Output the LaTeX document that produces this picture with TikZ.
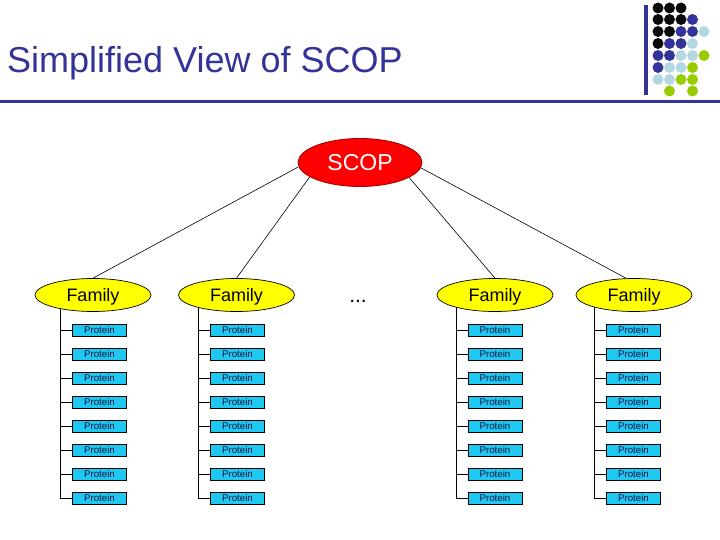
\documentclass[tikz,border=0pt]{standalone}
\usepackage{fontspec}
\setmainfont{Liberation Sans}
\usetikzlibrary{shapes.geometric}
\pgfdeclarelayer{background}
\pgfsetlayers{background,main}
\definecolor{navy}{RGB}{51,51,153}
\definecolor{ltblue}{RGB}{180,216,226}
\definecolor{lgreen}{RGB}{153,204,0}
\definecolor{dotblack}{RGB}{10,10,10}
\definecolor{scopred}{RGB}{255,0,0}
\definecolor{scopedge}{RGB}{150,0,0}
\definecolor{famyellow}{RGB}{255,255,0}
\definecolor{protcyan}{RGB}{30,200,240}
\definecolor{prottext}{RGB}{16,16,64}
\tikzset{
  rootnode/.style={ellipse, fill=scopred, draw=scopedge, line width=0.8pt, inner sep=0pt,
    minimum width=124pt, minimum height=48pt, text=white, font=\fontsize{23}{25}\selectfont},
  famnode/.style={ellipse, fill=famyellow, draw=black, line width=0.7pt, inner sep=0pt,
    minimum width=116pt, minimum height=33pt, text=black, text height=13pt, text depth=0pt,
    font=\fontsize{18}{20}\selectfont},
  protnode/.style={rectangle, fill=protcyan, draw=black, line width=0.9pt, inner sep=0pt,
    minimum width=54pt, minimum height=12pt, text=prottext, font=\fontsize{9.7}{10}\selectfont},
  link/.style={draw=black, line width=0.6pt},
  treeline/.style={draw=black, line width=0.9pt},
  dot/.style={radius=5.5pt}
}
\begin{document}
\begin{tikzpicture}[x=1pt,y=-1pt]
\useasboundingbox (0,0) rectangle (720,540);
% title and rules
\node[anchor=base west, inner sep=0pt, text=navy, font=\fontsize{36}{40}\selectfont] (title) at (7,73) {Simplified View of SCOP};
\fill[navy] (0,100.5) rectangle (720,103.5);
\fill[navy] (643.5,5) rectangle (647.5,95);
% dot grid
\foreach \c/\x in {1/658,2/669.5,3/681,4/692.5,5/704}{\coordinate (dc\c) at (\x,0);}
\foreach \r/\y in {1/8,2/19.5,3/31.5,4/43.5,5/55.5,6/67.5,7/79.5,8/91}{\coordinate (dr\r) at (0,\y);}
\foreach \r/\c/\col in {1/1/dotblack,1/2/dotblack,1/3/dotblack,
  2/1/dotblack,2/2/dotblack,2/3/dotblack,2/4/navy,
  3/1/dotblack,3/2/dotblack,3/3/navy,3/4/navy,3/5/ltblue,
  4/1/dotblack,4/2/navy,4/3/navy,4/4/ltblue,
  5/1/navy,5/2/navy,5/3/ltblue,5/4/ltblue,5/5/lgreen,
  6/1/navy,6/2/ltblue,6/3/ltblue,6/4/lgreen,
  7/1/ltblue,7/2/ltblue,7/3/lgreen,7/4/lgreen,
  8/2/lgreen,8/4/lgreen}{
  \fill[\col] (dc\c |- dr\r) circle[dot];
}
% root
\node[rootnode] (scop) at (360,162.5) {SCOP};
% families
\node[famnode] (f1) at (93,295) {Family};
\node[famnode] (f2) at (236.5,295) {Family};
\node[famnode] (f3) at (495,295) {Family};
\node[famnode] (f4) at (634,295) {Family};
\node[font=\fontsize{21}{22}\selectfont, inner sep=0pt, anchor=base] (dots) at (358,302) {...};
% proteins
\foreach \k/\y in {1/330.5,2/354.5,3/378.5,4/402.5,5/426.5,6/450.5,7/474.5,8/498.5}{
  \node[protnode] (p1-\k) at (99.5,\y) {Protein};
  \node[protnode] (p2-\k) at (237.5,\y) {Protein};
  \node[protnode] (p3-\k) at (495,\y) {Protein};
  \node[protnode] (p4-\k) at (633.5,\y) {Protein};
}
\begin{pgfonlayer}{background}
  \draw[link] (scop.184) -- (f1.north);
  \draw[link] (scop.196) -- (f2.north);
  \draw[link] (scop.343) -- (f3.north);
  \draw[link] (scop.355) -- (f4.115);
  \foreach \f in {1,2,3,4}{
    \foreach \k in {1,...,8}{
      \draw[treeline] ([xshift=-11.5pt]p\f-1.west |- f\f.center) |- (p\f-\k.west);
    }
  }
\end{pgfonlayer}
\end{tikzpicture}
\end{document}
